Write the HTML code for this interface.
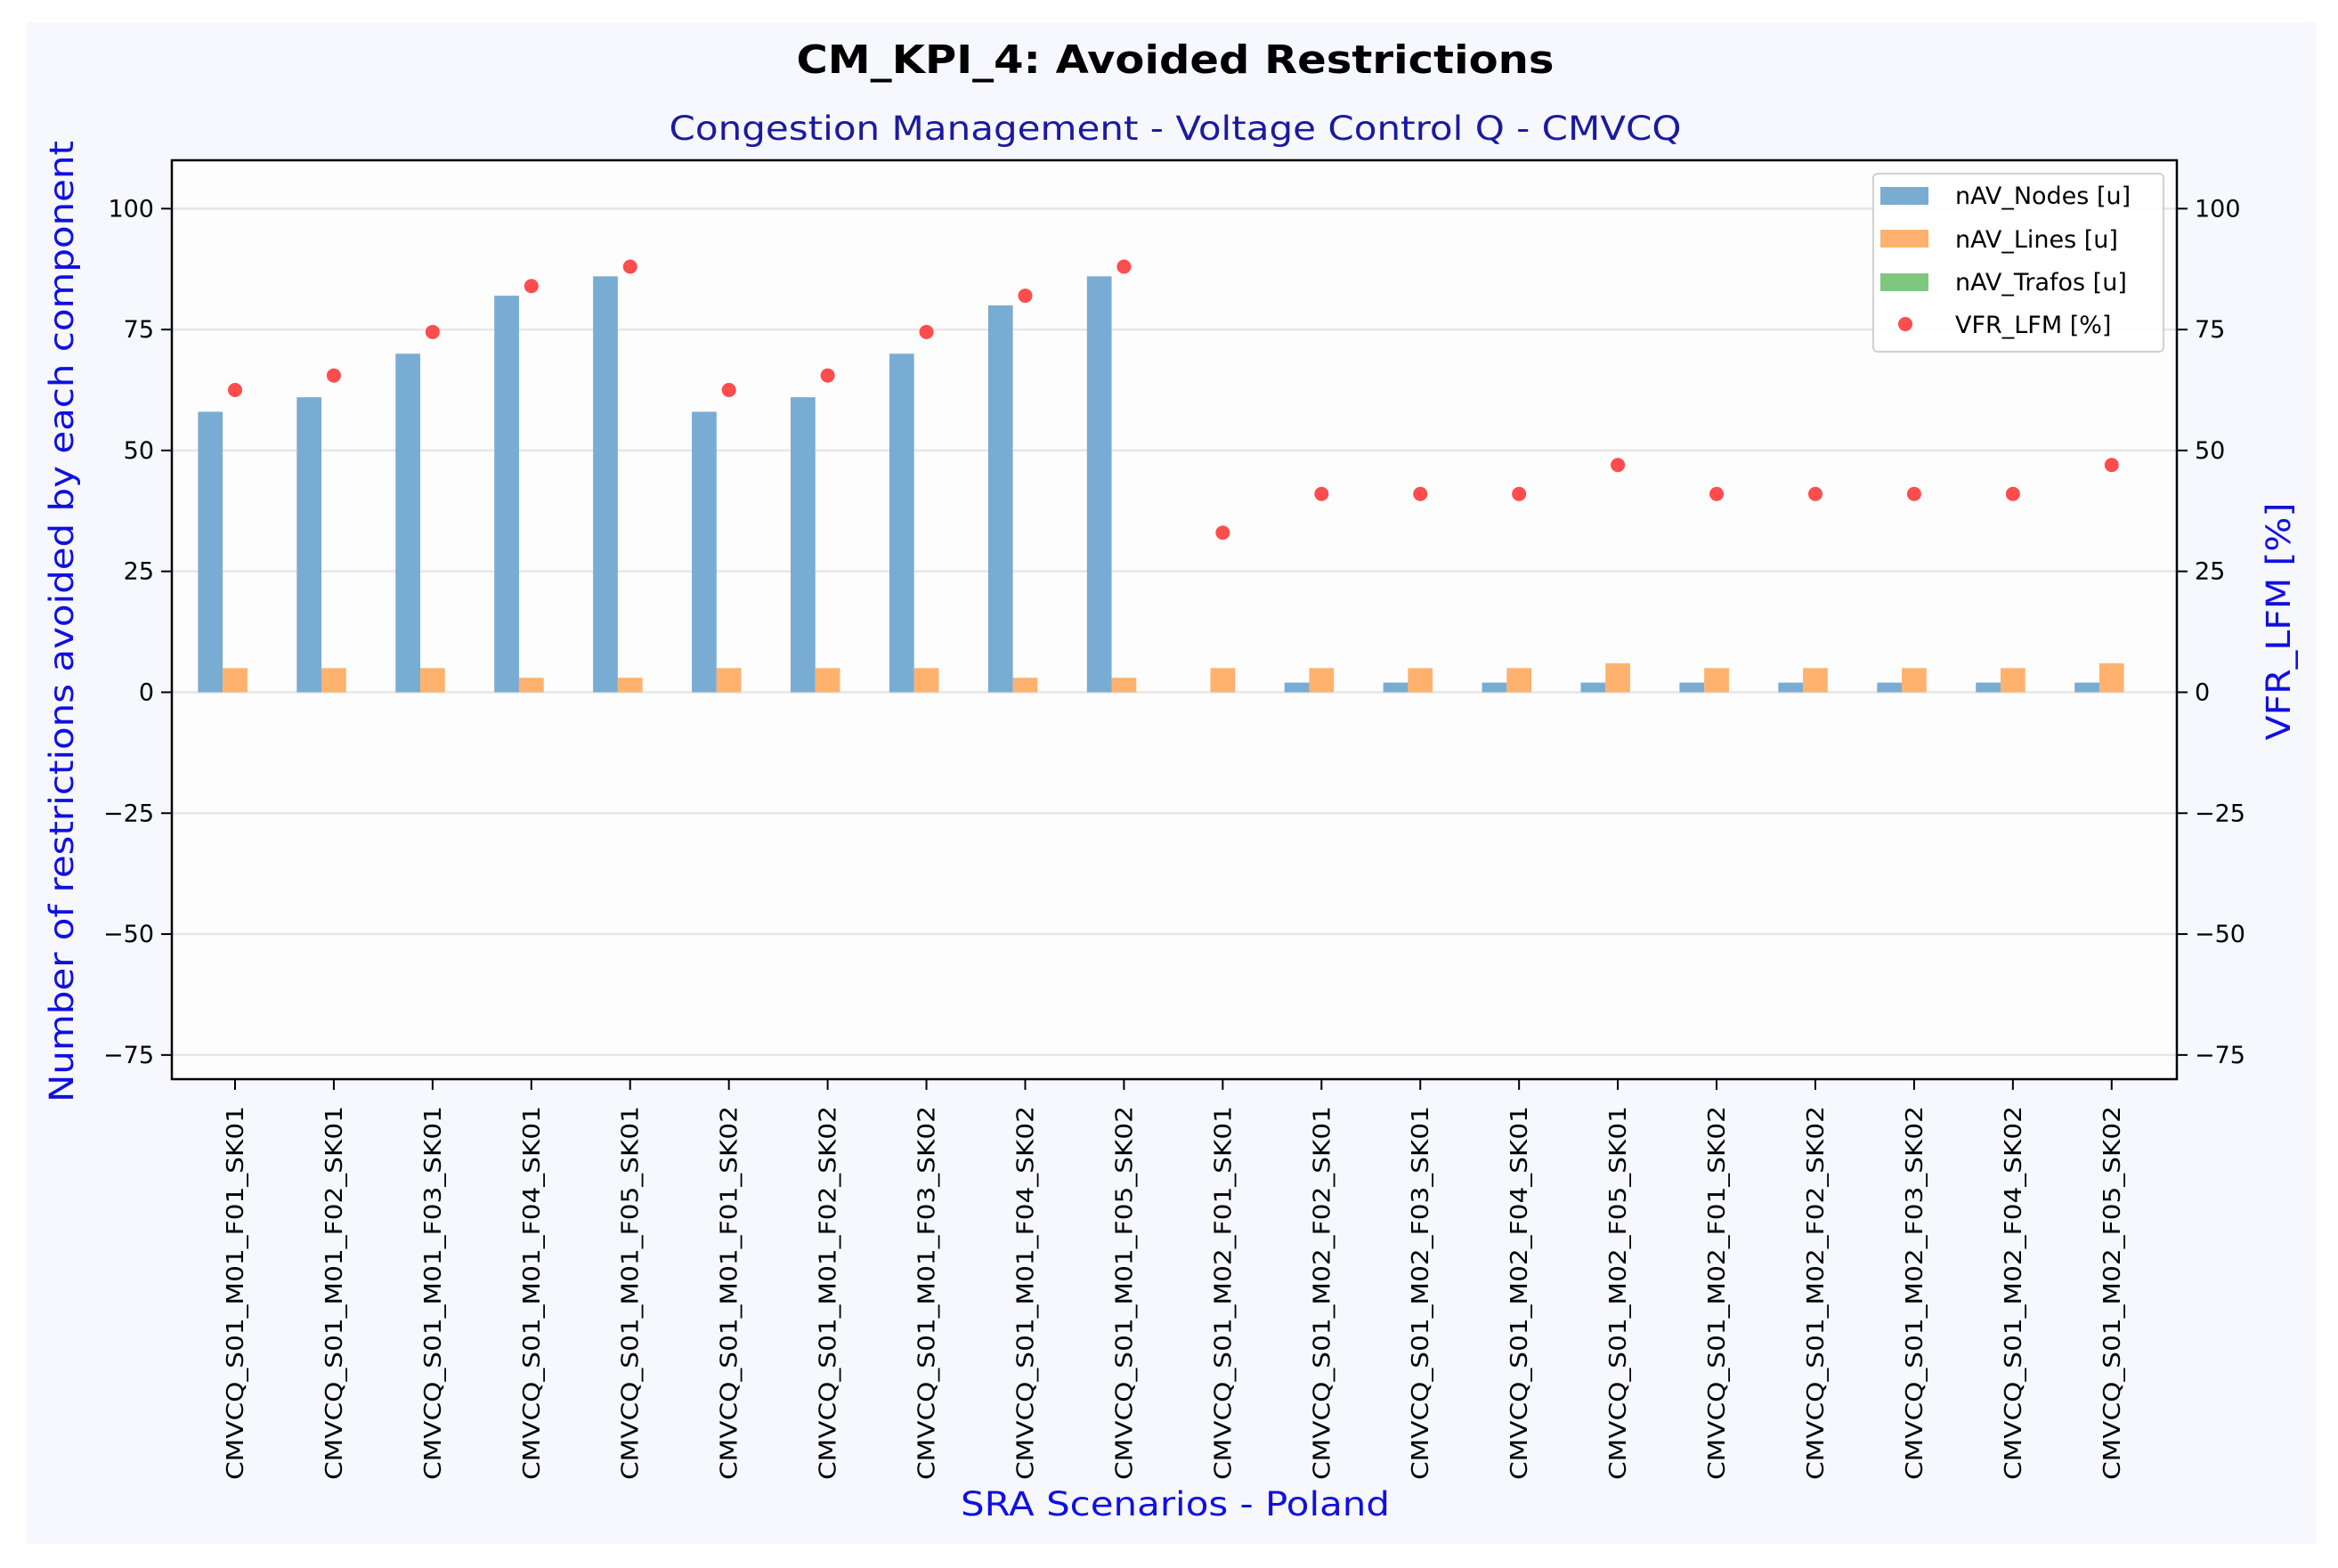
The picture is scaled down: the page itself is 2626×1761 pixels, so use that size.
<!DOCTYPE html>
<html><head><meta charset="utf-8"><style>
html,body{margin:0;padding:0;background:#fff;}
svg{display:block;font-family:"DejaVu Sans","Liberation Sans",sans-serif;}
</style></head><body>
<svg id="chart" width="2626" height="1761" viewBox="0 0 2626 1761" xmlns="http://www.w3.org/2000/svg">
<rect x="30" y="25" width="2572" height="1709" fill="#f7f8fd"/>
<rect x="193" y="180" width="2252" height="1032" fill="#fdfdfe"/>
<g id="grid"></g>
<g id="bars"></g>
<g id="dots"></g>
<rect x="193" y="180" width="2252" height="1032" fill="none" stroke="#000" stroke-width="2.5"/>
<g id="axes"></g>
<text x="1320" y="82" text-anchor="middle" font-size="44" font-weight="bold" textLength="851" lengthAdjust="spacingAndGlyphs">CM_KPI_4: Avoided Restrictions</text>
<text x="1320" y="157" text-anchor="middle" font-size="37" fill="#1a1aa0" textLength="1137" lengthAdjust="spacingAndGlyphs">Congestion Management - Voltage Control Q - CMVCQ</text>
<text transform="translate(82,698) rotate(-90)" text-anchor="middle" font-size="37" fill="#1010e0" textLength="1080" lengthAdjust="spacingAndGlyphs">Number of restrictions avoided by each component</text>
<text transform="translate(2572,698) rotate(-90)" text-anchor="middle" font-size="37" fill="#1010e0" textLength="267" lengthAdjust="spacingAndGlyphs">VFR_LFM [%]</text>
<text x="1320" y="1702" text-anchor="middle" font-size="37" fill="#1010e0" textLength="482" lengthAdjust="spacingAndGlyphs">SRA Scenarios - Poland</text>
<g>
<rect x="2104" y="195" width="326" height="200" rx="5" fill="#fff" fill-opacity="0.85" stroke="#d0d0d0" stroke-width="2"/>
<rect x="2112" y="210" width="54" height="20" fill="#79acd2"/>
<text x="2196" y="229" font-size="27">nAV_Nodes [u]</text>
<rect x="2112" y="258" width="54" height="20" fill="#ffb26e"/>
<text x="2196" y="278" font-size="27">nAV_Lines [u]</text>
<rect x="2112" y="307" width="54" height="20" fill="#80c680"/>
<text x="2196" y="326" font-size="27">nAV_Trafos [u]</text>
<circle cx="2140" cy="364" r="8" fill="#ff4c4c"/>
<text x="2196" y="374" font-size="27">VFR_LFM [%]</text>
</g>
</svg>
<script>
const categories=["CMVCQ_S01_M01_F01_SK01","CMVCQ_S01_M01_F02_SK01","CMVCQ_S01_M01_F03_SK01","CMVCQ_S01_M01_F04_SK01","CMVCQ_S01_M01_F05_SK01","CMVCQ_S01_M01_F01_SK02","CMVCQ_S01_M01_F02_SK02","CMVCQ_S01_M01_F03_SK02","CMVCQ_S01_M01_F04_SK02","CMVCQ_S01_M01_F05_SK02","CMVCQ_S01_M02_F01_SK01","CMVCQ_S01_M02_F02_SK01","CMVCQ_S01_M02_F03_SK01","CMVCQ_S01_M02_F04_SK01","CMVCQ_S01_M02_F05_SK01","CMVCQ_S01_M02_F01_SK02","CMVCQ_S01_M02_F02_SK02","CMVCQ_S01_M02_F03_SK02","CMVCQ_S01_M02_F04_SK02","CMVCQ_S01_M02_F05_SK02"];
const nodes=[58,61,70,82,86,58,61,70,80,86,0,2,2,2,2,2,2,2,2,2];
const lines=[5,5,5,3,3,5,5,5,3,3,5,5,5,5,6,5,5,5,5,6];
const trafos=[0,0,0,0,0,0,0,0,0,0,0,0,0,0,0,0,0,0,0,0];
const vfr=[62.5,65.5,74.5,84,88,62.5,65.5,74.5,82,88,33,41,41,41,47,41,41,41,41,47];
const yTicks=[-75,-50,-25,0,25,50,75,100];
const yTickLabels=["\u221275","\u221250","\u221225","0","25","50","75","100"];

const NS="http://www.w3.org/2000/svg";
const L=193,R=2445,T=180,B=1212;
const yMin=-80,yMax=110,xMin=-0.64,xMax=19.66;
function y(v){return B-(v-yMin)/(yMax-yMin)*(B-T);}
function x(i){return L+(i-xMin)/(xMax-xMin)*(R-L);}
const unit=x(1)-x(0);
function mk(tag,attrs,parent){const e=document.createElementNS(NS,tag);for(const k in attrs)e.setAttribute(k,attrs[k]);parent.appendChild(e);return e;}
const grid=document.getElementById('grid'),bars=document.getElementById('bars'),dots=document.getElementById('dots'),axes=document.getElementById('axes');
yTicks.forEach((t,k)=>{
  const g=mk('line',{x1:L,x2:R,y1:y(t),y2:y(t),stroke:'#e6e6e6','stroke-width':2.5},grid);
  
  
  const tl=mk('line',{x1:L-12,x2:L,y1:y(t),y2:y(t),stroke:'#000','stroke-width':2},axes);
  
  
  const tr=mk('line',{x1:R,x2:R+12,y1:y(t),y2:y(t),stroke:'#000','stroke-width':2},axes);
  
  
  const a=mk('text',{x:L-20,y:y(t)+9,'text-anchor':'end','font-size':27},axes);
  a.textContent=yTickLabels[k];
  
  
  const b=mk('text',{x:R+20,y:y(t)+9,'text-anchor':'start','font-size':27},axes);
  b.textContent=yTickLabels[k];
  
  
});
const w=0.25*unit;
categories.forEach((c,i)=>{
  const cx=x(i);
  const bn=mk('rect',{x:cx-1.5*w,y:Math.min(y(nodes[i]),y(0)),width:w,height:Math.abs(y(0)-y(nodes[i])),fill:'#79acd2'},bars);
  
  
  const bl=mk('rect',{x:cx-0.5*w,y:Math.min(y(lines[i]),y(0)),width:w,height:Math.abs(y(0)-y(lines[i])),fill:'#ffb26e'},bars);
  
  
  const bt=mk('rect',{x:cx+0.5*w,y:Math.min(y(trafos[i]),y(0)),width:w,height:Math.abs(y(0)-y(trafos[i])),fill:'#80c680'},bars);
  
  
  const d=mk('circle',{cx:cx,cy:y(vfr[i]),r:8,fill:'#ff4c4c'},dots);
  
  
  const tk=mk('line',{x1:cx,x2:cx,y1:B,y2:B+12,stroke:'#000','stroke-width':2},axes);
  
  
  const lb=mk('text',{transform:`translate(${cx+9},1242) rotate(-90)`,'text-anchor':'end','font-size':26,textLength:420,lengthAdjust:'spacingAndGlyphs'},axes);
  lb.textContent=c;
  
  
});
</script>
</body></html>
